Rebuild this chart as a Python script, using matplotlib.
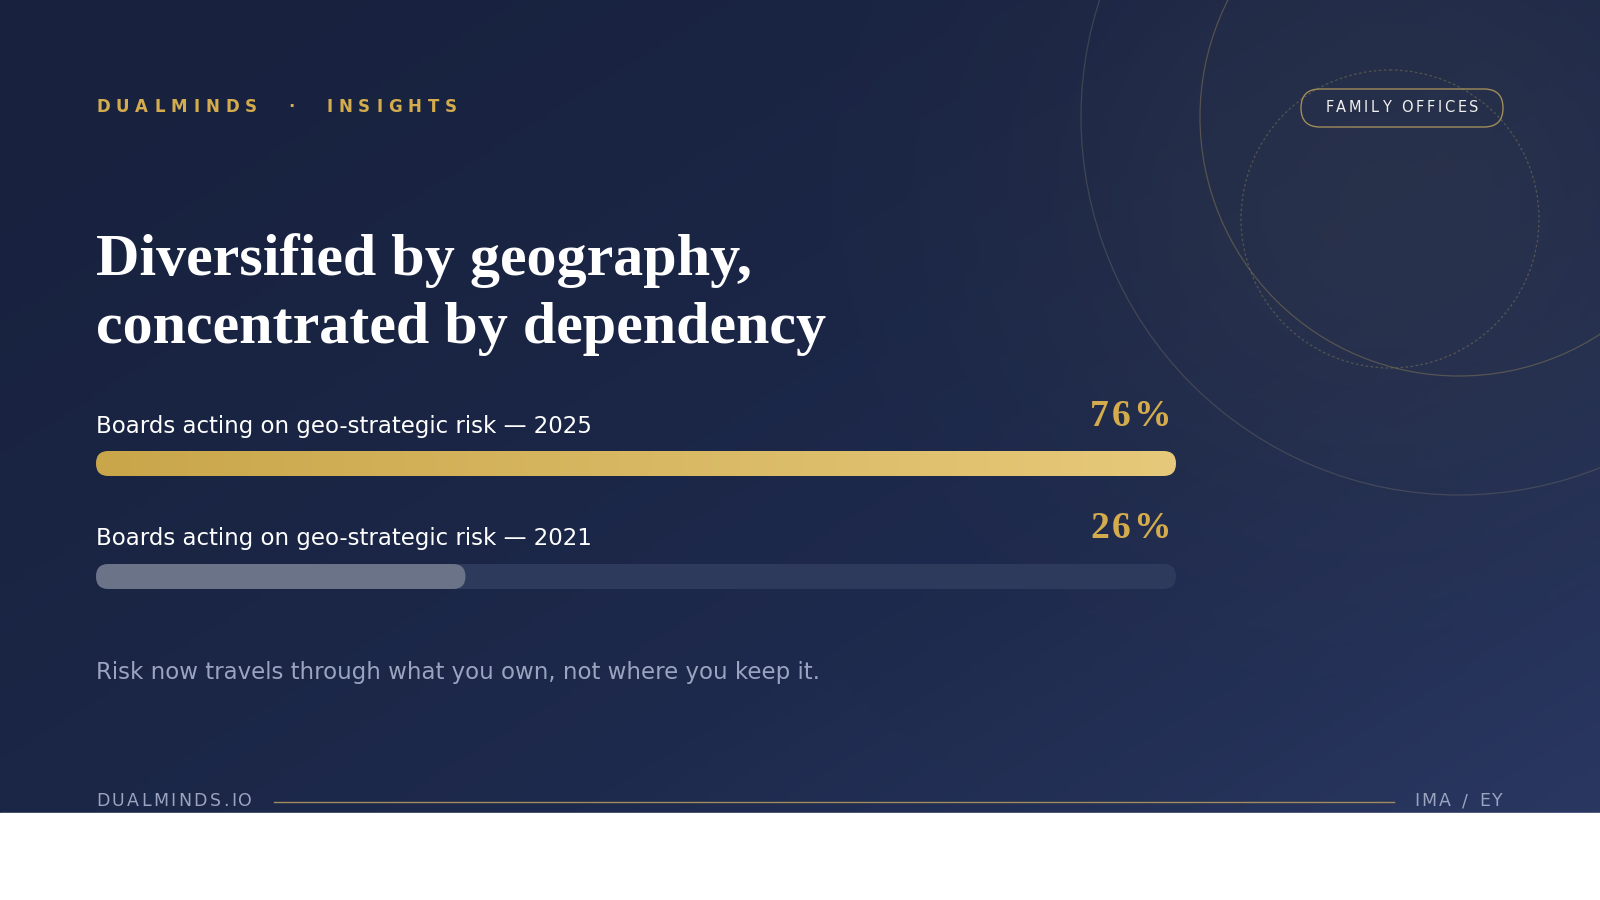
import numpy as np
import matplotlib.pyplot as plt
from matplotlib.patches import FancyBboxPatch, Circle
from matplotlib.colors import LinearSegmentedColormap

# data
labels = ["Boards acting on geo-strategic risk — 2025",
          "Boards acting on geo-strategic risk — 2021"]
values = [76, 26]
pct_text = ["76%", "26%"]

W, H = 1600, 900
PANEL_H = 813

fig = plt.figure(figsize=(16, 9), dpi=100)
fig.patch.set_facecolor("white")
ax = fig.add_axes([0, 0, 1, 1])
ax.set_xlim(0, W)
ax.set_ylim(H, 0)
ax.axis("off")
renderer = fig.canvas.get_renderer()


def tracked_text(x, y, s, spacing, ha="left", **kw):
    """Draw text with extra letter spacing (pixels); x is left/right/center."""
    probe = ax.text(0, 0, "a", **kw)
    space_w = probe.get_window_extent(renderer).width * 0.6
    probe.remove()
    arts, widths = [], []
    for ch in s:
        t = ax.text(0, y, ch, va="center", ha="left", **kw)
        widths.append(t.get_window_extent(renderer).width if ch != " " else space_w)
        arts.append(t)
    total = sum(widths) + spacing * (len(s) - 1)
    cx = x if ha == "left" else (x - total if ha == "right" else x - total / 2)
    for t, w in zip(arts, widths):
        t.set_x(cx)
        cx += w + spacing


# background gradient (top-left dark navy -> bottom-right lighter)
yy, xx = np.mgrid[0:1:200j, 0:1:360j]
t = np.clip(0.55 * xx + 0.45 * yy, 0, 1) ** 1.6
bg = LinearSegmentedColormap.from_list("bg", ["#18223f", "#1e2a4d", "#2a3762"])
ax.imshow(t, cmap=bg, extent=[0, W, PANEL_H, 0], aspect="auto", zorder=0)
g = np.exp(-(((xx - 0.87) / 0.22) ** 2 + ((yy - 0.25) / 0.4) ** 2))
glow = np.zeros((200, 360, 4))
glow[..., :3] = np.array([0.23, 0.25, 0.30])
glow[..., 3] = 0.4 * g
ax.imshow(glow, extent=[0, W, PANEL_H, 0], aspect="auto", zorder=0.5)

# decorative circles
ax.add_patch(Circle((1459, 117), 378, fill=False, ec="#8a8470", lw=0.9, alpha=0.3, zorder=1))
ax.add_patch(Circle((1459, 117), 259, fill=False, ec="#a08c5a", lw=0.9, alpha=0.4, zorder=1))
ax.add_patch(Circle((1390, 219), 149, fill=False, ec="#a08c5a", lw=0.9, ls=(0, (2, 2)), alpha=0.4, zorder=1))
ax.set_xlim(0, W)
ax.set_ylim(H, 0)
ax.add_patch(plt.Rectangle((0, PANEL_H), W, H - PANEL_H, color="white", zorder=1.5))

gold = "#d4ac4e"
# header
tracked_text(96, 107, "DUALMINDS  ·  INSIGHTS", 6.0, color=gold, fontsize=12,
             fontweight="bold", zorder=3)
ax.add_patch(FancyBboxPatch((1301, 89), 202, 38, boxstyle="round,pad=0,rounding_size=19",
                            fc="none", ec="#a08c5a", lw=1.0, zorder=3))
tracked_text(1402, 108, "FAMILY OFFICES", 2.7, ha="center", color="#f0f0f0",
             fontsize=10.5, zorder=3)

# title
for i, line in enumerate(["Diversified by geography,", "concentrated by dependency"]):
    ax.text(96, 261 + 68 * i, line, color="white", fontsize=43.3, fontweight="bold",
            family="Liberation Serif", va="center", ha="left", zorder=3)

# bars
x0, x1 = 96, 1176
bar_h = 25
vmax = max(values)
gcmap = LinearSegmentedColormap.from_list("gold", ["#c9a64a", "#e6c97a"])
for i, (lab, v, pt) in enumerate(zip(labels, values, pct_text)):
    ytop = 451 + 113 * i
    ax.text(x0, ytop - 25, lab, color="white", fontsize=16.5, va="center", ha="left", zorder=3)
    tracked_text(x1 - 5, ytop - 35, pt, 3, ha="right", color=gold, fontsize=27,
                 fontweight="bold", family="Liberation Serif", zorder=3)
    track = FancyBboxPatch((x0, ytop), x1 - x0, bar_h,
                           boxstyle=f"round,pad=0,rounding_size={bar_h/2}",
                           fc="#2d3a5c", ec="none", zorder=2)
    ax.add_patch(track)
    wv = (x1 - x0) * v / vmax
    fill = FancyBboxPatch((x0, ytop), wv, bar_h,
                          boxstyle=f"round,pad=0,rounding_size={bar_h/2}",
                          fc="#6b7388" if i else "none", ec="none", zorder=2.5)
    ax.add_patch(fill)
    if i == 0:
        im = ax.imshow(np.linspace(0, 1, 256)[None, :], cmap=gcmap,
                       extent=[x0, x0 + wv, ytop + bar_h, ytop], aspect="auto", zorder=2.5)
        im.set_clip_path(fill)

ax.set_xlim(0, W)
ax.set_ylim(H, 0)

ax.text(96, 672, "Risk now travels through what you own, not where you keep it.",
        color="#9aa3bf", fontsize=16.5, va="center", ha="left", zorder=3)

# footer
tracked_text(96, 801, "DUALMINDS.IO", 2.4, color="#9aa3bf", fontsize=12.5, zorder=3)
ax.plot([274, 1394], [802, 802], color="#a08c5a", lw=1.0, zorder=3)
tracked_text(1503, 801, "IMA / EY", 2.4, ha="right", color="#9aa3bf", fontsize=12.5, zorder=3)

fig.savefig("out.png", dpi=100, facecolor=fig.get_facecolor())
